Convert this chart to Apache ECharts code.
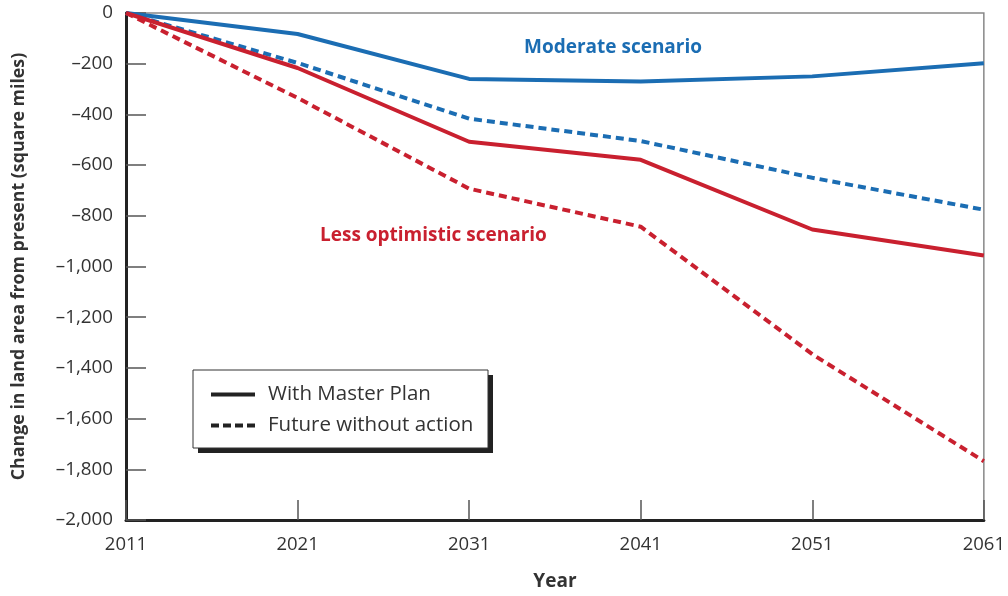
<!DOCTYPE html>
<html>
<head>
<meta charset="utf-8">
<script src="https://cdn.jsdelivr.net/npm/echarts@6/dist/echarts.min.js"></script>
<style>html,body{margin:0;padding:0;background:#fff}#c{width:1008px;height:596px}</style>
</head>
<body>
<div id="c"></div>
<script>
const years = ['2011', '2021', '2031', '2041', '2051', '2061'];
const moderatePlan = [0, -83, -260, -270, -250, -198];
const moderateNoAction = [0, -197, -417, -505, -650, -776];
const lessOptPlan = [0, -217, -508, -579, -854, -957];
const lessOptNoAction = [0, -335, -693, -843, -1346, -1768];
const yTicks = { min: -2000, max: 0, interval: 200 };

const FONT = '"Open Sans", "Noto Sans", sans-serif';
const BLUE = '#1b6db3';
const RED = '#c9202f';
const DASH = [8, 5];

function fmt(v) {
  if (v === 0) return '0';
  const a = Math.abs(v).toString().replace(/\B(?=(\d{3})+(?!\d))/g, ',');
  return (v < 0 ? '\u2013' : '') + a;
}

function lineSeries(data, color, dashed, name) {
  return {
    name: name,
    type: 'line',
    data: data,
    symbol: 'none',
    lineStyle: { color: color, width: 4, type: dashed ? DASH : 'solid', cap: 'butt' },
    itemStyle: { color: color },
    z: dashed ? 3 : 4
  };
}

const chart = echarts.init(document.getElementById('c'));
chart.setOption({
  animation: false,
  textStyle: { fontFamily: FONT },
  grid: { left: 126, right: 18, top: 13, bottom: 75, show: true, borderColor: '#888', borderWidth: 1.5, backgroundColor: 'transparent' },
  legend: {
    left: 211, top: 384,
    orient: 'vertical',
    itemWidth: 44, itemHeight: 10, itemGap: 10,
    padding: 0,
    z: 10,
    textStyle: { fontFamily: FONT, fontSize: 20.5, lineHeight: 20, color: '#333', padding: [0, 0, 0, 8] },
    data: [
      { name: 'With Master Plan', icon: 'path://M0,0H44V4H0Z' },
      { name: 'Future without action', icon: 'path://M0,0H8V4H0ZM12,0H20V4H12ZM24,0H32V4H24ZM36,0H44V4H36Z' }
    ]
  },
  xAxis: {
    type: 'category',
    data: years,
    boundaryGap: false,
    name: 'Year',
    nameLocation: 'middle',
    nameGap: 52,
    nameTextStyle: { fontFamily: FONT, fontSize: 19, fontWeight: 'bold', color: '#333' },
    axisLine: { onZero: false, lineStyle: { color: '#222', width: 3 } },
    axisTick: { inside: true, length: 20, lineStyle: { color: '#555', width: 1.5 } },
    axisLabel: { fontSize: 18.5, color: '#333', margin: 15, fontFamily: FONT },
    splitLine: { show: false }
  },
  yAxis: {
    type: 'value',
    min: yTicks.min, max: yTicks.max, interval: yTicks.interval,
    name: 'Change in land area from present (square miles)',
    nameLocation: 'middle',
    nameGap: 98,
    nameTextStyle: { fontFamily: FONT, fontSize: 17.8, fontWeight: 'bold', color: '#333' },
    axisLine: { show: true, onZero: false, lineStyle: { color: '#222', width: 3 } },
    axisTick: { show: true, inside: true, length: 20, lineStyle: { color: '#555', width: 1.5 } },
    axisLabel: { fontSize: 18.8, color: '#333', margin: 13, fontFamily: FONT, formatter: fmt },
    splitLine: { show: false }
  },
  series: [
    lineSeries(moderatePlan, BLUE, false, 'Moderate plan'),
    lineSeries(moderateNoAction, BLUE, true, 'Moderate no action'),
    lineSeries(lessOptPlan, RED, false, 'Less plan'),
    lineSeries(lessOptNoAction, RED, true, 'Less no action'),
    { name: 'With Master Plan', type: 'line', data: [], symbol: 'none', itemStyle: { color: '#222' }, lineStyle: { color: '#222', width: 4 } },
    { name: 'Future without action', type: 'line', data: [], symbol: 'none', itemStyle: { color: '#222' }, lineStyle: { color: '#222', width: 4, type: DASH } }
  ],
  graphic: [
    { type: 'rect', z: 5, shape: { x: 198, y: 375, width: 295, height: 78 }, style: { fill: '#222' } },
    { type: 'rect', z: 6, shape: { x: 193, y: 370, width: 295, height: 78 }, style: { fill: '#fff', stroke: '#333', lineWidth: 1 } },
    { type: 'text', z: 7, left: 524, top: 38, style: { text: 'Moderate scenario', fill: BLUE, font: 'bold 19px ' + FONT } },
    { type: 'text', z: 7, left: 320, top: 226, style: { text: 'Less optimistic scenario', fill: RED, font: 'bold 19px ' + FONT } }
  ]
});
</script>
</body>
</html>
